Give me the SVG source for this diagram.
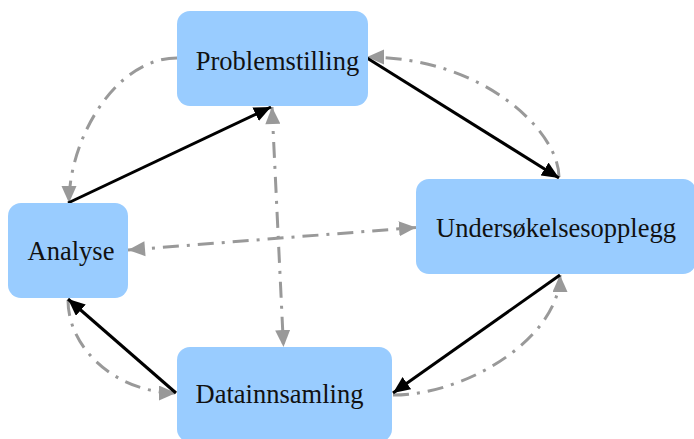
<svg xmlns="http://www.w3.org/2000/svg" width="694" height="439" viewBox="0 0 694 439">
<style>
.box{fill:#99ccff;}
.lbl{font-family:"Liberation Serif","Times New Roman",serif;font-size:26.5px;fill:#111;text-anchor:middle;}
.solid{fill:none;stroke:#000;stroke-width:3;}
.dd{fill:none;stroke:#999;stroke-width:3;stroke-dasharray:16,8,3,8;}
</style>
<defs>
<marker id="ab" markerUnits="userSpaceOnUse" markerWidth="18" markerHeight="16" refX="17" refY="7.5" orient="auto">
<path d="M0,0 L17,7.5 L0,15 z" fill="#000"/>
</marker>
<marker id="ag" markerUnits="userSpaceOnUse" markerWidth="18" markerHeight="16" refX="17" refY="7.5" orient="auto">
<path d="M0,0 L17,7.5 L0,15 z" fill="#999"/>
</marker>
<marker id="ags" markerUnits="userSpaceOnUse" markerWidth="18" markerHeight="16" refX="0" refY="7.5" orient="auto">
<path d="M17,0 L0,7.5 L17,15 z" fill="#999"/>
</marker>
</defs>
<g id="connectors">
<path class="dd" d="M177,58 C116,58 69,138 69,203" marker-end="url(#ag)"/>
<path class="dd" d="M559,177 C559,132 484,57 367,57" marker-end="url(#ag)"/>
<path class="dd" d="M393,395 C469,395 560,336 560,275" marker-end="url(#ag)"/>
<path class="dd" d="M68,300 C68,349 117,393 176,393" marker-end="url(#ag)"/>
<path class="dd" d="M272,107 L283.5,347" marker-start="url(#ags)" marker-end="url(#ag)"/>
<path class="dd" d="M128,250 L416,227.5" marker-start="url(#ags)" marker-end="url(#ag)"/>
<path class="solid" d="M68,203 L271,107" marker-end="url(#ab)"/>
<path class="solid" d="M367,58 L559,178" marker-end="url(#ab)"/>
<path class="solid" d="M560,275 L393,393" marker-end="url(#ab)"/>
<path class="solid" d="M176,393 L68,299" marker-end="url(#ab)"/>
</g>
<g id="problemstilling">
<rect class="box" x="177" y="11" width="191" height="95" rx="13"/>
<text class="lbl" x="277.5" y="70">Problemstilling</text>
</g>
<g id="undersokelsesopplegg">
<rect class="box" x="416" y="179" width="280" height="95" rx="13"/>
<text class="lbl" x="556" y="237">Undersøkelsesopplegg</text>
</g>
<g id="analyse">
<rect class="box" x="8" y="203" width="120" height="95" rx="13"/>
<text class="lbl" x="71" y="260">Analyse</text>
</g>
<g id="datainnsamling">
<rect class="box" x="177" y="347" width="215" height="95" rx="13"/>
<text class="lbl" x="279.5" y="403">Datainnsamling</text>
</g>
</svg>
